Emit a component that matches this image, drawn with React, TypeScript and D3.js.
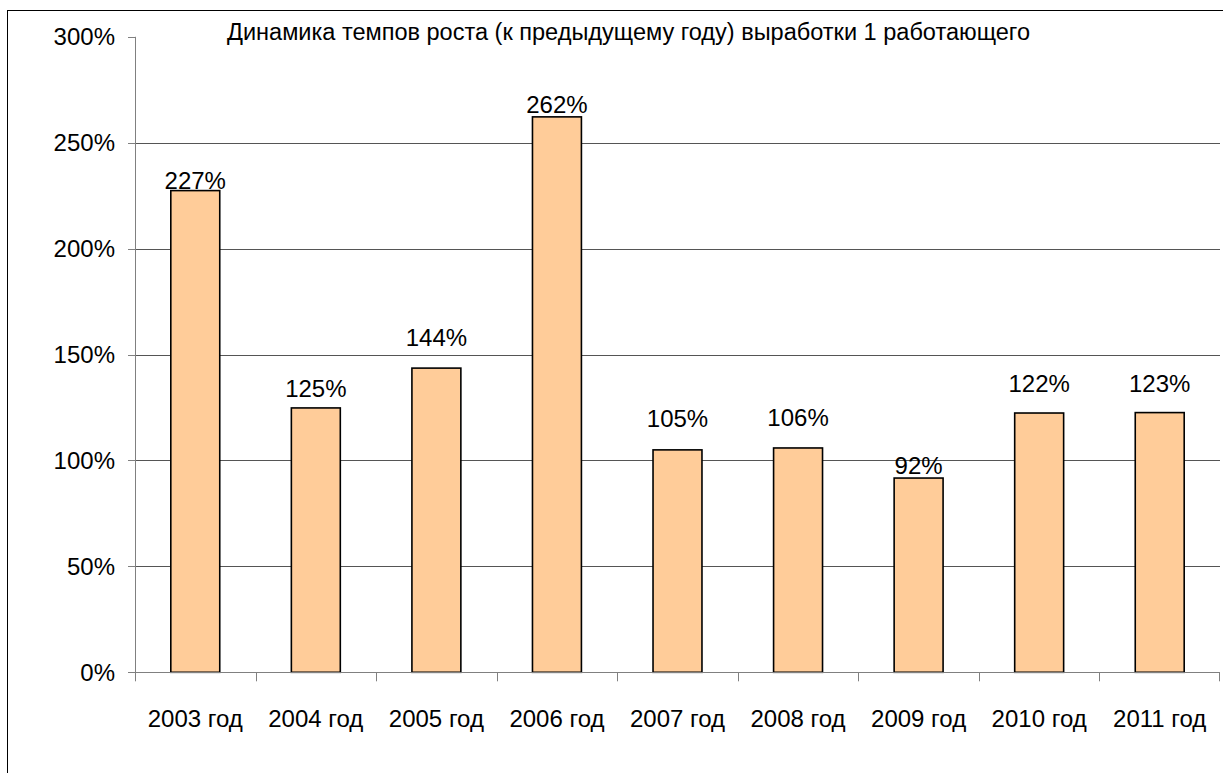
import React from "react";
import * as d3 from "d3";

const categories = ["2003 год", "2004 год", "2005 год", "2006 год", "2007 год", "2008 год", "2009 год", "2010 год", "2011 год"];
const values = [227.4, 124.8, 143.6, 262.2, 105.0, 105.9, 91.7, 122.4, 122.6];
const valueLabels = ["227%", "125%", "144%", "262%", "105%", "106%", "92%", "122%", "123%"];
const labelLift = [2, 11, 22, 4, 23, 22, 4, 21, 21];
const yTicks = [0, 50, 100, 150, 200, 250, 300];
const title = "Динамика темпов роста (к предыдущему году) выработки 1 работающего";

const W = 1223;
const H = 773;
const FONT = "'Liberation Sans', Arial, sans-serif";

export default function App() {
  const left = 135;
  const right = 1220;
  const y0 = 672.3;
  const yTop = 36.8;
  const x = d3.scaleBand<string>().domain(categories).range([left, right]).paddingInner(0.594).paddingOuter(0.297);
  const xOuter = d3.scaleBand<string>().domain(categories).range([left, right]).padding(0);
  const y = d3.scaleLinear().domain([0, 300]).range([y0, yTop]);

  return (
    <svg width={W} height={H} style={{ position: "absolute", left: 0, top: 0, background: "#fff" }} fontFamily={FONT}>
      <rect x={7.5} y={10.5} width={1230} height={780} fill="#fff" stroke="#000" strokeWidth={1} />
      {yTicks.filter((t) => t > 0 && t < 300).map((t) => (
        <line key={"g" + t} x1={left} x2={right} y1={Math.round(y(t)) + 0.5} y2={Math.round(y(t)) + 0.5} stroke="#555" strokeWidth={1} />
      ))}
      <line x1={left + 0.5} x2={left + 0.5} y1={y(300)} y2={y0} stroke="#808080" strokeWidth={1} />
      {yTicks.map((t) => (
        <g key={"t" + t}>
          <line x1={left - 7} x2={left} y1={Math.round(y(t)) + 0.5} y2={Math.round(y(t)) + 0.5} stroke="#808080" strokeWidth={1} />
          <text x={115} y={y(t) + 8.5} textAnchor="end" fontSize={24} fill="#000">{t + "%"}</text>
        </g>
      ))}
      {categories.map((c, i) => (
        <rect key={"b" + c} x={x(c)!} y={y(values[i])} width={x.bandwidth()} height={y0 - y(values[i])} fill="#FFCC99" stroke="#000" strokeWidth={1.6} />
      ))}
      <line x1={left} x2={right} y1={Math.round(y0) + 0.5} y2={Math.round(y0) + 0.5} stroke="#808080" strokeWidth={1} />
      {categories.map((c) => (
        <line key={"xt" + c} x1={Math.round(xOuter(c)!) + 0.5} x2={Math.round(xOuter(c)!) + 0.5} y1={y0} y2={y0 + 9} stroke="#808080" strokeWidth={1} />
      ))}
      <line x1={right - 0.5} x2={right - 0.5} y1={y0} y2={y0 + 9} stroke="#808080" strokeWidth={1} />
      {categories.map((c) => (
        <text key={"xl" + c} x={x(c)! + x.bandwidth() / 2} y={727} textAnchor="middle" fontSize={24} fill="#000">{c}</text>
      ))}
      {categories.map((c, i) => (
        <text key={"vl" + c} x={x(c)! + x.bandwidth() / 2} y={y(values[i]) - labelLift[i]} textAnchor="middle" fontSize={24} fill="#000">{valueLabels[i]}</text>
      ))}
      <text x={227} y={40} fontSize={23} fill="#000" textLength={803} lengthAdjust="spacingAndGlyphs">{title}</text>
    </svg>
  );
}
